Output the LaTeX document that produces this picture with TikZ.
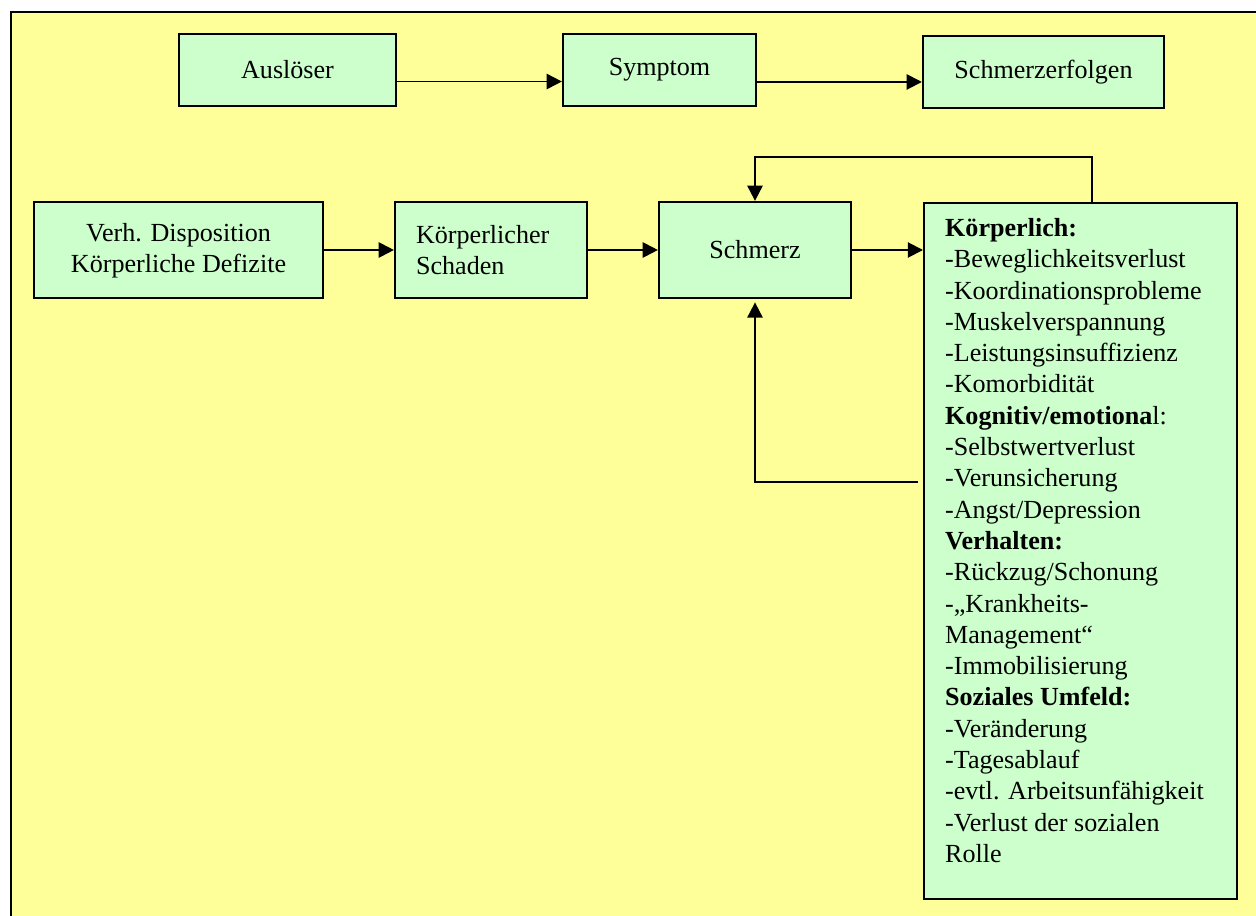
\documentclass[tikz,border=0pt]{standalone}
\usepackage{fontspec}
\setmainfont{Liberation Serif}
\usetikzlibrary{arrows.meta}

\definecolor{hgelb}{HTML}{FFFF99}
\definecolor{kgruen}{HTML}{CCFFCC}

\tikzset{
	kasten/.style={draw, fill=kgruen, line width=1pt, inner sep=0pt, align=center,
		font=\fontsize{12pt}{14.4pt}\selectfont},
	pfeil/.style={line width=0.9pt, -{Triangle[length=7pt,width=7pt]}}
}

\begin{document}
\begin{tikzpicture}[x=0.46pt, y=-0.46pt]
	\useasboundingbox (0,0) rectangle (1256,916);
	\fill[white] (0,0) rectangle (1256,916);
	\draw[fill=hgelb, line width=1pt] (11,12) rectangle (1290,950);

	\node[kasten, minimum width=99.8pt, minimum height=33.1pt] (ausloeser) at (287.5,70) {Auslöser};
	\node[kasten, minimum width=88.8pt, minimum height=33.1pt] (symptom) at (659.5,70) {Symptom};
	\node[kasten, minimum width=110.9pt, minimum height=33.1pt] (folgen) at (1043.5,72) {Schmerzerfolgen};

	\node[kasten, minimum width=132.9pt, minimum height=44.2pt, text depth=2pt] (verh) at (178.5,250) {Verh. Disposition\\Körperliche Defizite};
	\node[kasten, minimum width=88.3pt, minimum height=44.2pt, text width=68.9pt, inner xsep=9.7pt, align=left] (koerper) at (491,250) {Körperlicher\\Schaden};
	\node[kasten, minimum width=88.3pt, minimum height=44.2pt] (schmerz) at (755,250) {Schmerz};

	\node[kasten, anchor=north west, align=left, inner xsep=9.7pt, inner ysep=7pt] (liste) at (923,202)
	{\parbox[t][306pt][t]{124.6pt}{\raggedright
		\textbf{Körperlich:}\\
		-Beweglichkeitsverlust\\
		-Koordinationsprobleme\\
		-Muskelverspannung\\
		-Leistungsinsuffizienz\\
		-Komorbidität\\
		\textbf{Kognitiv/emotiona}l:\\
		-Selbstwertverlust\\
		-Verunsicherung\\
		-Angst/Depression\\
		\textbf{Verhalten:}\\
		-Rückzug/Schonung\\
		-„Krankheits-\\
		Management“\\
		-Immobilisierung\\
		\textbf{Soziales Umfeld:}\\
		-Veränderung\\
		-Tagesablauf\\
		-evtl. Arbeitsunfähigkeit\\
		-Verlust der sozialen\\
		Rolle}};

	\coordinate (s1) at ([yshift=-5.3pt]ausloeser.east);
	\coordinate (s2) at ([yshift=-5.5pt]symptom.east);
	\coordinate (oben) at (1092,157);
	\coordinate (unten) at (918,482);

	\draw[pfeil] (s1) -- (s1 -| symptom.west);
	\draw[pfeil] (s2) -- (s2 -| folgen.west);
	\draw[pfeil] (verh.east) -- (koerper.west);
	\draw[pfeil] (koerper.east) -- (schmerz.west);
	\draw[pfeil] (schmerz.east) -- (schmerz.east -| liste.west);
	\draw[pfeil] (oben |- liste.north) -- (oben) -| (schmerz.north);
	\draw[pfeil, shorten >=1.5pt] (unten) -| (schmerz.south);

\end{tikzpicture}
\end{document}
